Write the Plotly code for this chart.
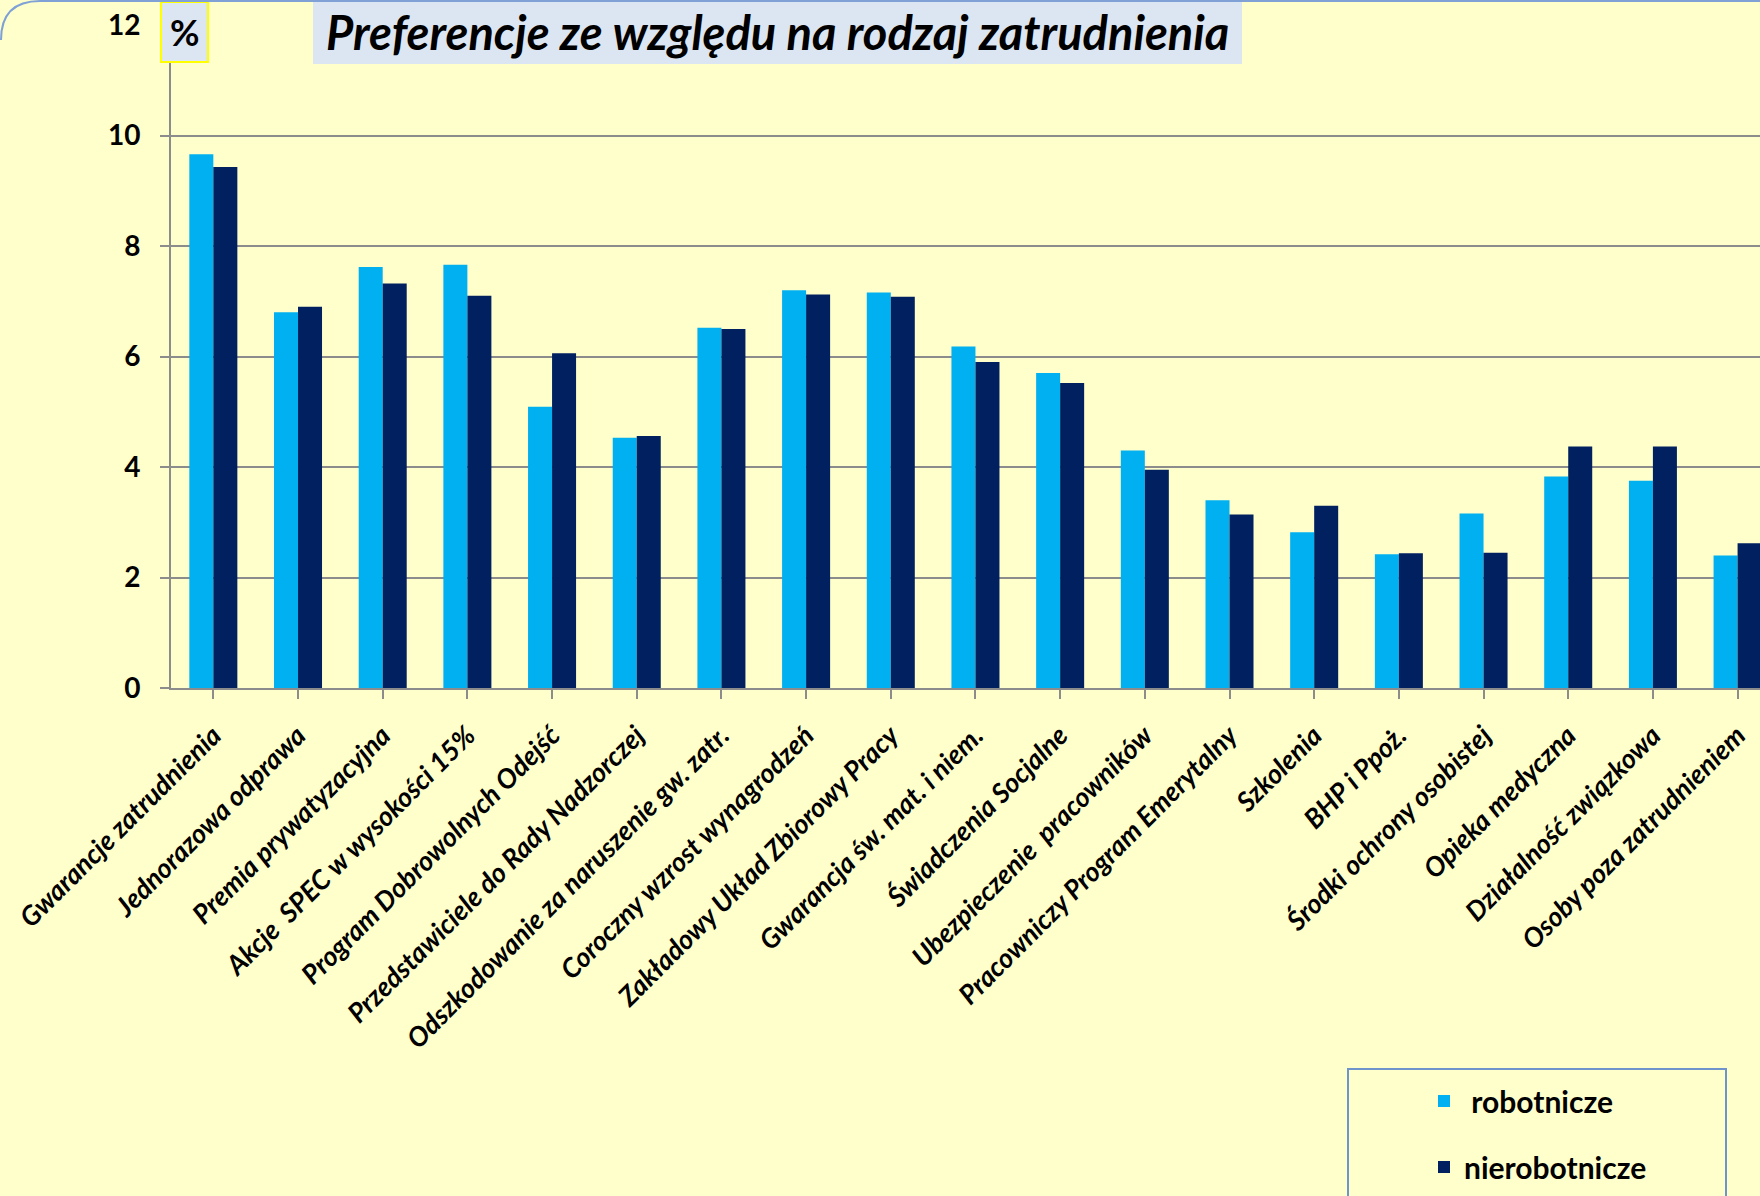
import plotly.graph_objects as go

categories = [
    "Gwarancje zatrudnienia",
    "Jednorazowa odprawa",
    "Premia prywatyzacyjna",
    "Akcje  SPEC w wysokości 15%",
    "Program Dobrowolnych Odejść",
    "Przedstawiciele do Rady Nadzorczej",
    "Odszkodowanie za naruszenie gw. zatr.",
    "Coroczny wzrost wynagrodzeń",
    "Zakładowy Układ Zbiorowy Pracy",
    "Gwarancja św. mat. i niem.",
    "Świadczenia Socjalne",
    "Ubezpieczenie  pracowników",
    "Pracowniczy Program Emerytalny",
    "Szkolenia",
    "BHP i Ppoż.",
    "Środki ochrony osobistej",
    "Opieka medyczna",
    "Działalność związkowa",
    "Osoby poza zatrudnieniem",
]
robotnicze = [9.66, 6.80, 7.62, 7.66, 5.09, 4.53, 6.52, 7.20, 7.16, 6.18,
              5.70, 4.30, 3.40, 2.82, 2.42, 3.16, 3.83, 3.75, 2.40]
nierobotnicze = [9.43, 6.90, 7.32, 7.10, 6.06, 4.56, 6.50, 7.12, 7.08, 5.90,
                 5.52, 3.95, 3.14, 3.30, 2.44, 2.45, 4.37, 4.37, 2.62]
y_ticks = [0, 2, 4, 6, 8, 10, 12]
series_names = [" robotnicze", "nierobotnicze"]
title_text = "Preferencje ze względu na rodzaj zatrudnienia"

FONT = "Lato"
BG = "#FFFFCC"
C_LIGHT = "#00B0F0"
C_DARK = "#002060"
GRID = "#8C8C8C"

W, H = 1760, 1196
L, R_EDGE, T, B = 171, 1760, 25, 688
PW, PH = R_EDGE - L, B - T
CAT_W = 84.68
x_max = -0.5 + PW / CAT_W


def px(x):
    return (x - L) / PW


def py(y):
    return (B - y) / PH


fig = go.Figure()
fig.add_trace(go.Bar(x=list(range(len(categories))), y=robotnicze, name=series_names[0],
                     marker=dict(color=C_LIGHT, line=dict(width=0)), legendgroup="a"))
fig.add_trace(go.Bar(x=list(range(len(categories))), y=nierobotnicze, name=series_names[1],
                     marker=dict(color=C_DARK, line=dict(width=0)), legendgroup="b"))

shapes = [
    # title box
    dict(type="rect", xref="paper", yref="paper", x0=px(313), x1=px(1242), y0=py(64), y1=py(-2),
         fillcolor="#DCE6F2", line=dict(width=0), layer="above"),
    # percent box
    dict(type="rect", xref="paper", yref="paper", x0=px(161), x1=px(208), y0=py(62), y1=py(2),
         fillcolor="#DCE6F2", line=dict(color="#FFFF00", width=2), layer="above"),
    # legend box
    dict(type="rect", xref="paper", yref="paper", x0=px(1348), x1=px(1726), y0=py(1205), y1=py(1069),
         fillcolor="rgba(0,0,0,0)", line=dict(color="#6F94CC", width=2), layer="above"),
    # rounded outer border (top-left corner and top edge)
    dict(type="path", xref="paper", yref="paper",
         path=f"M {px(1)},{py(40)} Q {px(1)},{py(1)} {px(40)},{py(1)} L {px(1760)},{py(1)}",
         line=dict(color="#7FA1D6", width=2), layer="above"),
]

annotations = [
    dict(text=title_text, xref="paper", yref="paper", x=px(777), y=py(32),
         xanchor="center", yanchor="middle", showarrow=False,
         font=dict(family=FONT, size=47, color="black", weight="bold", style="italic")),
    dict(text="%", xref="paper", yref="paper", x=px(185), y=py(32),
         xanchor="center", yanchor="middle", showarrow=False,
         font=dict(family=FONT, size=36, color="black", weight="bold")),
]

fig.update_layout(
    width=W, height=H,
    margin=dict(l=L, r=W - R_EDGE, t=T, b=H - B, pad=0),
    paper_bgcolor=BG, plot_bgcolor=BG,
    barmode="group", bargap=0.433, bargroupgap=0,
    showlegend=True,
    legend=dict(x=px(1424), y=py(1075), xanchor="left", yanchor="top",
                bgcolor="rgba(0,0,0,0)", borderwidth=0, tracegroupgap=24,
                font=dict(family=FONT, size=30, color="black", weight="bold"),
                traceorder="grouped"),
    shapes=shapes,
    annotations=annotations,
    font=dict(family=FONT, color="black"),
)

fig.update_xaxes(
    range=[-0.5, x_max],
    tickmode="array", tickvals=list(range(len(categories))), ticktext=categories,
    tickangle=-45, tickson="boundaries", ticks="outside", ticklen=9, tickwidth=2, tickcolor=GRID,
    tickfont=dict(family=FONT, size=27, color="black", weight="bold", style="italic"),
    ticklabelstandoff=10,
    showline=True, linecolor=GRID, linewidth=2,
    showgrid=False, zeroline=False,
)
fig.update_yaxes(
    range=[0, 12], tickmode="array", tickvals=y_ticks,
    ticks="outside", ticklen=9, tickwidth=2, tickcolor=GRID,
    tickfont=dict(family=FONT, size=28, color="black", weight="bold"),
    ticklabelstandoff=14,
    showline=True, linecolor=GRID, linewidth=2,
    showgrid=True, gridcolor=GRID, gridwidth=2,
    zeroline=False,
)

fig.write_html("out.html", config={"displayModeBar": False},
               post_script="document.body.style.margin='0px';document.body.style.background='#FFFFCC';")
